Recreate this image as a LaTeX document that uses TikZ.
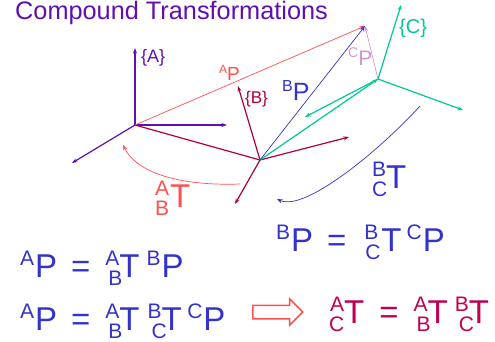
\documentclass[tikz,border=0pt]{standalone}
\usepackage{fontspec}
\setmainfont{Liberation Sans}
\usepackage{xcolor}
\usetikzlibrary{shapes, arrows.meta, positioning}
\definecolor{ctpurple}{RGB}{96,16,176}
\definecolor{ctred}{RGB}{255,80,80}
\definecolor{ctdark}{RGB}{176,0,56}
\definecolor{ctteal}{RGB}{0,200,150}
\definecolor{ctblue}{RGB}{51,51,204}
\definecolor{ctlilac}{RGB}{204,153,204}
\definecolor{ctrose}{RGB}{192,0,80}
\newcommand{\fsz}[1]{\fontsize{#1}{#1}\selectfont}
\newcommand{\preup}[1]{\raisebox{12pt}{\fsz{21}#1}\kern1pt}
\newcommand{\prestk}[3][0pt]{\makebox[14pt][l]{\rlap{\raisebox{12pt}{\fsz{21}#2}}\kern#1\raisebox{-8pt}{\fsz{21}#3}}}
\tikzset{
  eqn/.style={anchor=base west, inner sep=0pt, font=\fsz{33}},
  lbl/.style={anchor=base west, inner sep=0pt},
  frameA/.style={ctpurple, line width=1.2pt, ->},
  frameB/.style={ctdark, line width=1.2pt, ->},
  frameC/.style={ctteal, line width=1.2pt, ->},
  thinvec/.style={line width=0.7pt, ->},
}
\begin{document}
\begin{tikzpicture}[x=1pt, y=-1pt, >={Stealth[length=5.5pt,width=4pt]}]
            \useasboundingbox (0,0) rectangle (495,341);
            \node[lbl, font=\fsz{25.3}, text=ctpurple] (title) at (15,19) {Compound Transformations};
            \coordinate (orgA) at (135,125);
            \coordinate (orgB) at (260,160);
            \coordinate (orgC) at (378,79);
            \coordinate (ptP) at (365,26);
            \coordinate (ax1) at (135,48);
            \coordinate (ax2) at (227,125);
            \coordinate (ax3) at (72,163);
            \coordinate (bx1) at (238,86);
            \coordinate (bx2) at (349,137);
            \coordinate (bx3) at (235,204);
            \coordinate (cx1) at (401,5);
            \coordinate (cx2) at (463,110);
            \coordinate (cx3) at (305,117);
            \coordinate (arcAs) at (240,184);
            \coordinate (arcAe) at (123,145);
            \coordinate (arcBs) at (420,106);
            \coordinate (arcBe) at (277,199);
            \draw[frameA] (orgA) -- (ax1);
            \draw[frameA] (orgA) -- (ax2);
            \draw[frameA] (orgA) -- (ax3);
            \draw[ctdark, line width=1.2pt] (orgA) -- (orgB);
            \draw[frameB] (orgB) -- (bx1);
            \draw[frameB] (orgB) -- (bx2);
            \draw[frameB] (orgB) -- (bx3);
            \draw[frameC] (orgB) -- (orgC);
            \draw[frameC] (orgC) -- (cx1);
            \draw[frameC] (orgC) -- (cx2);
            \draw[frameC] (orgC) -- (cx3);
            \draw[thinvec, ctred] (orgA) -- (ptP);
            \draw[thinvec, ctblue] (orgB) -- (ptP);
            \draw[thinvec, ctlilac] (orgC) -- (ptP);
            \draw[thinvec, ctred] (arcAs) .. controls (185,186) and (138,175) .. (arcAe);
            \draw[thinvec, ctblue] (arcBs) .. controls (380,150) and (305,212) .. (arcBe);
            \node[lbl, font=\fsz{18}, text=ctpurple] (lblA) at (141,62) {\{A\}};
            \node[lbl, font=\fsz{17}, text=ctdark] (lblB) at (245,103) {\{B\}};
            \node[lbl, font=\fsz{20}, text=ctteal] (lblC) at (399,33) {\{C\}};
            \node[lbl, font=\fsz{19}, text=ctred] (lblAP) at (219,80) {\raisebox{7pt}{\fsz{12}A}P};
            \node[lbl, font=\fsz{25}, text=ctblue] (lblBP) at (282,100) {\raisebox{9pt}{\fsz{16}B}P};
            \node[lbl, font=\fsz{21}, text=ctlilac] (lblCP) at (348,65) {\raisebox{8pt}{\fsz{14}C}P};
            \node[eqn, text=ctred] (tfAB) at (155,207) {\prestk{A}{B}\kern1pt T};
            \node[eqn, text=ctblue] (tfBC) at (372,188) {\prestk{B}{C}T};
            \node[eqn, text=ctblue] (eqBP) at (276,251) {\preup{B}P\hspace{14pt}=\hspace{18pt}\prestk[1pt]{B}{C}\kern3pt T\hspace{5pt}\preup{C}P};
            \node[eqn, text=ctblue] (eqAP) at (20,277) {\preup{A}P\hspace{14pt}=\hspace{15pt}\prestk[3pt]{A}{B}T\hspace{7pt}\preup{B}P};
            \node[eqn, text=ctblue] (eqAPC) at (20,330) {\preup{A}P\hspace{14pt}=\hspace{15pt}\prestk[3pt]{A}{B}T\hspace{8pt}\prestk[4pt]{B}{C}T\hspace{5.5pt}\preup{C}P};
            \node[eqn, text=ctrose] (eqAC) at (330,323) {\prestk[-1pt]{A}{C}T\hspace{15pt}=\hspace{15pt}\prestk[3pt]{A}{B}T\hspace{7pt}\prestk[4pt]{B}{C}T};
            \node[single arrow, draw=ctred, line width=1.5pt, minimum height=50pt, minimum width=25pt, single arrow head extend=6.5pt, single arrow tip angle=90, inner xsep=0pt, inner ysep=6pt, anchor=west] (impl) at (252,312) {};
        \end{tikzpicture}
\end{document}
